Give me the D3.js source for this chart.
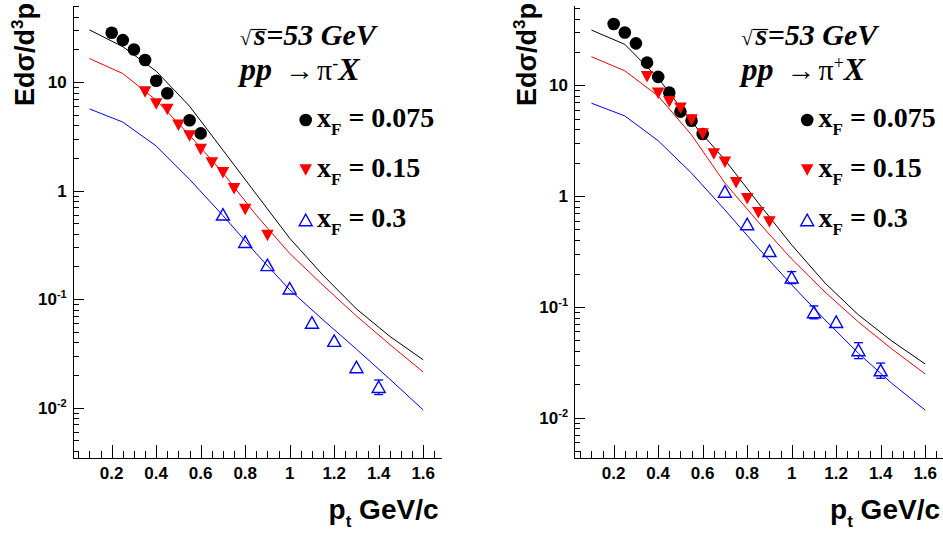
<!DOCTYPE html>
<html><head><meta charset="utf-8">
<script src="https://cdn.jsdelivr.net/npm/d3@7"></script>
<style>body{margin:0;background:#fff} svg{display:block}</style>
</head><body>
<svg id="chart" width="943" height="535"></svg>
<script>
// ---------- data ----------
const ptCurve = [0.1,0.25,0.4,0.55,0.7,0.85,1.0,1.15,1.3,1.45,1.6];

// pp -> pi- X
const minusCurveBlack = [30.3,21.2,12.6,6.0,2.36,0.926,0.364,0.166,0.0813,0.0454,0.0276];
const minusCurveRed   = [16.5,12.0,6.82,3.24,1.46,0.593,0.264,0.134,0.070,0.0382,0.0213];
const minusCurveBlue  = [5.67,4.28,2.58,1.27,0.589,0.263,0.122,0.0644,0.0346,0.0183,0.00953];
const minusPtBlack = [0.2,0.25,0.3,0.35,0.4,0.45,0.55,0.6];
const minusValBlack = [28.5,24.4,20.0,16.0,10.3,7.9,4.46,3.37];
const minusPtRed = [0.35,0.4,0.45,0.5,0.55,0.6,0.65,0.7,0.75,0.8,0.9];
const minusValRed = [8.1,6.3,5.6,4.0,3.18,2.39,1.80,1.46,1.04,0.67,0.385];
const minusPtBlue = [0.7,0.8,0.9,1.0,1.1,1.2,1.3,1.4];
const minusValBlue = [0.605,0.338,0.207,0.126,0.0609,0.0415,0.0237,0.0156];
const minusErrBlue = [0.03,0.015,0.009,0.006,0.003,0.002,0.0015,0.0024];

// pp -> pi+ X
const plusCurveBlack = [31.5,23.4,11.6,4.67,2.12,0.867,0.362,0.164,0.0846,0.0492,0.0305];
const plusCurveRed   = [18.1,13.5,8.0,3.56,1.31,0.583,0.270,0.136,0.0730,0.0417,0.0248];
const plusCurveBlue  = [6.89,5.29,3.16,1.61,0.75,0.338,0.158,0.0762,0.0381,0.0204,0.0117];
const plusPtBlack = [0.2,0.25,0.3,0.35,0.4,0.45,0.5,0.55,0.6];
const plusValBlack = [35.7,29.9,23.9,16.0,11.9,8.58,5.78,4.79,3.63];
const plusPtRed = [0.35,0.4,0.45,0.5,0.55,0.6,0.65,0.7,0.75,0.8,0.85,0.9];
const plusValRed = [11.96,8.47,7.11,6.2,4.86,3.63,2.40,2.02,1.32,0.948,0.708,0.583];
const plusPtBlue = [0.7,0.8,0.9,1.0,1.1,1.2,1.3,1.4];
const plusValBlue = [1.10,0.56,0.321,0.185,0.090,0.0734,0.0408,0.0269];
const plusErrBlue = [0.05,0.025,0.015,0.023,0.012,0.006,0.0067,0.0042];

const xFLabels = ["0.075","0.15","0.3"];
const seriesColors = ["#000000","#ff0000","#0000ff"];
const xTickValues = [0.2,0.4,0.6,0.8,1.0,1.2,1.4,1.6];
const xTickLabels = ["0.2","0.4","0.6","0.8","1","1.2","1.4","1.6"];
const yTickValues = [0.01,0.1,1,10];
const yTickBase = ["10","10","1","10"];
const yTickExp = ["-2","-1","",""];

// ---------- drawing ----------
const svg = d3.select("#chart");
const SANS = "'Liberation Sans', Arial, sans-serif";
const SERIF = "'Liberation Serif', 'Times New Roman', serif";

const mctx = document.createElement("canvas").getContext("2d");
function inkMetrics(txt, font) { mctx.font = font; return mctx.measureText(txt); }

const triDown = { draw(ctx, size) { const w = 12.5, h = 11.5;
  ctx.moveTo(-w/2, -h/2); ctx.lineTo(w/2, -h/2); ctx.lineTo(0, h/2); ctx.closePath(); } };
const triUp = { draw(ctx, size) { const w = 13, h = 11.5;
  ctx.moveTo(-w/2, h/2); ctx.lineTo(w/2, h/2); ctx.lineTo(0, -h/2); ctx.closePath(); } };

function drawPanel(p) {
  const g = svg.append("g");
  const x = d3.scaleLinear().domain(p.xDomain).range(p.xRange);
  const y = d3.scaleLog().domain(p.yDomain).range([458, 5.3]);
  const ax = p.xRange[0];
  const dx = p.dx;

  const yMinor = [];
  for (let e = -3; e <= 1; e++) for (let m = 2; m <= 9; m++) {
    const v = m * Math.pow(10, e);
    if (v >= p.yDomain[0] && v <= p.yDomain[1]) yMinor.push(v);
  }
  const xMinor = d3.range(1, 34).map(i => i * 0.05).filter(v => Math.abs(v / 0.2 - Math.round(v / 0.2)) > 1e-6 && v >= p.xDomain[0] && v <= p.xDomain[1]);

  const axG = g.append("g").attr("shape-rendering", "crispEdges");
  axG.append("g").attr("transform", `translate(${ax},0)`)
    .call(d3.axisLeft(y).tickValues(yMinor).tickSizeInner(-5.7).tickSizeOuter(0).tickFormat(() => ""));
  axG.append("g").attr("transform", `translate(${ax},0)`)
    .call(d3.axisLeft(y).tickValues(yTickValues).tickSizeInner(-10.7).tickSizeOuter(0).tickFormat(() => ""));
  axG.append("g").attr("transform", `translate(0,458)`)
    .call(d3.axisBottom(x).tickValues(xMinor).tickSizeInner(-6.7).tickSizeOuter(0).tickFormat(() => ""));
  axG.append("g").attr("transform", `translate(0,458)`)
    .call(d3.axisBottom(x).tickValues(xTickValues).tickSizeInner(-13.3).tickSizeOuter(0).tickFormat(() => ""));
  axG.selectAll("path,line").attr("stroke", "#000").attr("stroke-width", 1);

  g.append("g").selectAll("text").data(xTickValues).join("text")
    .attr("x", d => x(d)).attr("y", 478.5)
    .attr("text-anchor", "middle").attr("font-family", SANS).attr("font-weight", "bold")
    .attr("font-size", 17).text((d, i) => xTickLabels[i]);

  const yl = g.append("g").selectAll("text").data(yTickValues).join("text")
    .attr("x", ax - 6.3).attr("y", d => y(d) + 6)
    .attr("text-anchor", "end").attr("font-family", SANS).attr("font-weight", "bold")
    .attr("font-size", 17);
  yl.each(function(d, i) {
    const t = d3.select(this);
    t.append("tspan").text(yTickBase[i]);
    if (yTickExp[i]) t.append("tspan").attr("font-size", 11).attr("dy", -7).text(yTickExp[i]);
  });

  const yt = g.append("text").attr("transform", `translate(${34 + dx},3) rotate(-90)`)
    .attr("text-anchor", "end").attr("font-family", SANS).attr("font-weight", "bold").attr("font-size", 27);
  yt.append("tspan").text("Edσ/d");
  yt.append("tspan").attr("font-size", 17).attr("dy", -11).text("3");
  yt.append("tspan").attr("dy", 11).text("p");

  const xt = g.append("text").attr("x", 438.5 + dx).attr("y", 518.5)
    .attr("text-anchor", "end").attr("font-family", SANS).attr("font-weight", "bold").attr("font-size", 28);
  xt.append("tspan").text("p");
  xt.append("tspan").attr("font-size", 17).attr("dy", 8).text("t");
  xt.append("tspan").attr("dy", -8).text(" GeV/c");

  const line = d3.line().x((d, i) => x(ptCurve[i])).y(d => y(d));
  p.curves.forEach((c, i) => {
    g.append("path").attr("d", line(c)).attr("fill", "none")
      .attr("stroke", seriesColors[i]).attr("stroke-width", 1);
  });

  const eg = g.append("g").attr("stroke", seriesColors[2]).attr("stroke-width", 1.3);
  p.bluePt.forEach((pt, i) => {
    const e = p.blueErr[i]; if (!e) return;
    const cx = x(pt), cy = y(p.blueVal[i]);
    const yt2 = y(p.blueVal[i] + e), yb2 = y(p.blueVal[i] - e);
    const gap = 5.5;
    if (cy - yt2 > gap) {
      eg.append("line").attr("x1", cx).attr("x2", cx).attr("y1", yt2).attr("y2", cy - gap);
      eg.append("line").attr("x1", cx - 4.5).attr("x2", cx + 4.5).attr("y1", yt2).attr("y2", yt2);
    }
    if (yb2 - cy > gap) {
      eg.append("line").attr("x1", cx).attr("x2", cx).attr("y1", cy + gap).attr("y2", yb2);
      eg.append("line").attr("x1", cx - 4.5).attr("x2", cx + 4.5).attr("y1", yb2).attr("y2", yb2);
    }
  });

  g.append("g").selectAll("circle").data(p.blackPt).join("circle")
    .attr("cx", d => x(d)).attr("cy", (d, i) => y(p.blackVal[i])).attr("r", 6.3).attr("fill", seriesColors[0]);
  g.append("g").selectAll("path").data(p.redPt).join("path")
    .attr("d", d3.symbol(triDown))
    .attr("transform", (d, i) => `translate(${x(d)},${y(p.redVal[i])})`).attr("fill", seriesColors[1]);
  g.append("g").selectAll("path").data(p.bluePt).join("path")
    .attr("d", d3.symbol(triUp))
    .attr("transform", (d, i) => `translate(${x(d)},${y(p.blueVal[i])})`)
    .attr("fill", "none").attr("stroke", seriesColors[2]).attr("stroke-width", 1.4);

  // header: sqrt(s)=53 GeV
  const base1 = 45, barY = 29.5;
  const radFamily = "'Liberation Serif'";
  const m0 = inkMetrics("√", `100px ${radFamily}`);
  const asc0 = m0.actualBoundingBoxAscent || 70;
  const radSize = Math.max(12, Math.min(40, 100 * (base1 - barY + 0.7) / asc0));
  const mR = inkMetrics("√", `${radSize}px ${radFamily}`);
  const radX = 240 + dx;
  const radRight = radX + (mR.actualBoundingBoxRight || radSize * 0.55);
  g.append("text").attr("x", radX).attr("y", base1).attr("font-family", SERIF)
    .attr("font-size", radSize).text("√");
  const sX = radRight + 2;
  const mS = inkMetrics("s", `italic bold 30px ${radFamily}`);
  const sW = mS.width || 12;
  const t1 = g.append("text").attr("y", base1).attr("font-family", SERIF).attr("font-size", 30)
    .attr("font-weight", "bold").attr("font-style", "italic");
  t1.append("tspan").attr("x", sX).text("s");
  t1.append("tspan").attr("x", sX + sW + 0.5).text("=53 GeV");
  g.append("line").attr("x1", radRight - 0.8).attr("x2", sX + sW + 1).attr("y1", barY).attr("y2", barY)
    .attr("stroke", "#000").attr("stroke-width", 1.2);

  // header: pp -> pi X
  const t2 = g.append("text").attr("y", 80).attr("font-family", SERIF).attr("font-size", 32)
    .attr("font-weight", "bold").attr("font-style", "italic");
  t2.append("tspan").attr("x", 240 + dx).text("pp");
  t2.append("tspan").attr("x", 285 + dx).attr("font-style", "normal").attr("font-weight", "normal").attr("font-size", 29).text("→");
  t2.append("tspan").attr("x", 317 + dx).attr("font-style", "normal").attr("font-weight", "normal").attr("font-size", 30).text("π");
  t2.append("tspan").attr("font-size", 18).attr("font-style", "normal").attr("font-weight", "normal").attr("dy", -11).text(p.sign);
  t2.append("tspan").attr("dy", 11).text("X");

  // legend
  const lg = g.append("g");
  xFLabels.forEach((lab, i) => {
    const my = 120 + 50 * i, mx = 305.7 + dx;
    if (i === 0) lg.append("circle").attr("cx", mx).attr("cy", my).attr("r", 6.3).attr("fill", seriesColors[0]);
    if (i === 1) lg.append("path").attr("d", d3.symbol(triDown)).attr("transform", `translate(${mx},${my})`).attr("fill", seriesColors[1]);
    if (i === 2) lg.append("path").attr("d", d3.symbol(triUp)).attr("transform", `translate(${mx},${my})`)
      .attr("fill", "none").attr("stroke", seriesColors[2]).attr("stroke-width", 1.4);
    const t = lg.append("text").attr("x", 317 + dx).attr("y", 126.7 + 50 * i)
      .attr("font-family", SERIF).attr("font-weight", "bold").attr("font-size", 28);
    t.append("tspan").text("x");
    t.append("tspan").attr("font-size", 17).attr("dy", 8).text("F");
    t.append("tspan").attr("dy", -8).text(" = " + lab);
  });
}

drawPanel({
  dx: 0, sign: "-",
  xDomain: [0.0261, 1.68], xRange: [73, 441],
  yDomain: [0.003436, 51.05],
  curves: [minusCurveBlack, minusCurveRed, minusCurveBlue],
  blackPt: minusPtBlack, blackVal: minusValBlack,
  redPt: minusPtRed, redVal: minusValRed,
  bluePt: minusPtBlue, blueVal: minusValBlue, blueErr: minusErrBlue
});
drawPanel({
  dx: 501.5, sign: "+",
  xDomain: [0.023, 1.68], xRange: [574.3, 943],
  yDomain: [0.004325, 52.7],
  curves: [plusCurveBlack, plusCurveRed, plusCurveBlue],
  blackPt: plusPtBlack, blackVal: plusValBlack,
  redPt: plusPtRed, redVal: plusValRed,
  bluePt: plusPtBlue, blueVal: plusValBlue, blueErr: plusErrBlue
});
</script>
</body></html>
